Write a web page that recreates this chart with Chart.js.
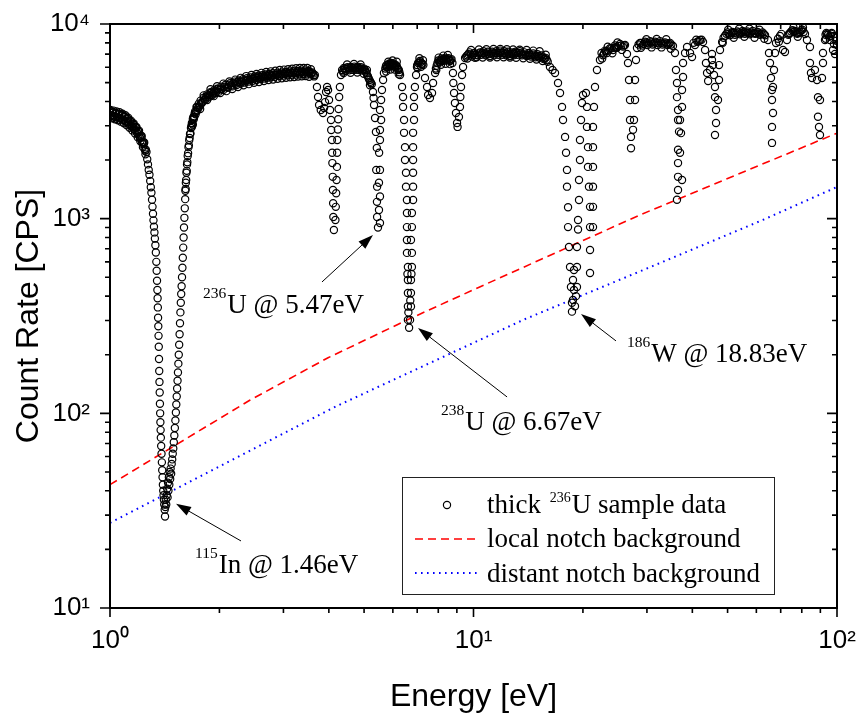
<!DOCTYPE html>
<html>
<head>
<meta charset="utf-8">
<script src="https://cdn.jsdelivr.net/npm/chart.js@4/dist/chart.umd.min.js"></script>
<style>
html,body{margin:0;padding:0;background:#fff;}
#wrap{width:861px;height:713px;}
</style>
</head>
<body>
<div id="wrap"><canvas id="c" width="861" height="713"></canvas></div>
<script>
// ---- sample data: energy [eV] and count rate [CPS] ----
const energyEV = [
1.00,1.01,1.02,1.03,1.04,1.05,1.06,1.07,1.08,1.09,
1.10,1.11,1.12,1.13,1.14,1.15,1.16,1.17,1.18,1.19,
1.20,1.21,1.22,1.23,1.24,1.25,1.26,1.266,1.272,1.278,
1.284,1.290,1.295,1.300,1.305,1.309,1.313,1.317,1.321,1.325,
1.329,1.333,1.337,1.341,1.344,1.347,1.350,1.352,1.354,1.356,
1.358,1.360,1.362,1.364,1.366,1.368,1.370,1.372,1.374,1.376,
1.378,1.380,1.383,1.386,1.389,1.392,1.395,1.398,1.401,1.404,
1.407,1.410,1.414,1.417,1.420,1.424,1.428,1.432,1.436,1.440,
1.444,1.448,1.452,1.456,1.460,1.464,1.468,1.473,1.478,1.483,
1.488,1.493,1.498,1.503,1.508,1.513,1.518,1.522,1.526,1.530,
1.534,1.538,1.542,1.546,1.550,1.554,1.558,1.562,1.566,1.570,
1.574,1.578,1.582,1.586,1.590,1.594,1.598,1.602,1.606,1.610,
1.615,1.620,1.626,1.632,1.640,1.648,1.656,1.665,1.675,1.685,
1.695,1.705,1.715,1.725,1.735,1.745,1.755,1.765,1.775,1.79,
1.81,1.83,1.85,1.87,1.89,1.91,1.93,1.95,1.97,1.99,
2.02,2.05,2.08,2.11,2.14,2.17,2.20,2.23,2.26,2.29,
2.32,2.35,2.38,2.41,2.44,2.47,2.50,2.53,2.56,2.59,
2.62,2.65,2.68,2.71,2.74,2.77,2.80,2.84,2.88,2.92,
2.96,3.00,3.04,3.08,3.12,3.16,3.20,3.24,3.28,3.32,
3.36,3.40,3.44,3.48,3.52,3.56,3.60,3.63,3.66,3.71,
3.735,3.76,3.80,3.855,3.88,3.905,3.93,3.955,3.98,4.005,
4.03,4.055,4.06,4.08,4.085,4.09,4.10,4.105,4.11,4.115,
4.13,4.17,4.18,4.19,4.20,4.21,4.215,4.22,4.235,4.245,
4.255,4.27,4.29,4.32,4.35,4.40,4.45,4.50,4.55,4.60,
4.65,4.70,4.75,4.80,4.85,4.90,4.95,5.00,5.05,5.10,
5.15,5.20,5.25,5.29,5.31,5.325,5.36,5.39,5.42,5.40,
5.43,5.425,5.43,5.46,5.53,5.495,5.53,5.495,5.53,5.50,
5.53,5.53,5.57,5.53,5.57,5.60,5.64,5.67,5.72,5.76,
5.80,5.85,5.89,5.94,5.98,6.03,6.08,6.13,6.18,6.23,
6.28,6.36,6.40,6.40,6.44,6.44,6.48,6.48,6.52,6.52,
6.56,6.56,6.56,6.56,6.56,6.60,6.58,6.60,6.60,6.62,
6.60,6.60,6.65,6.69,6.70,6.73,6.73,6.73,6.75,6.77,
6.77,6.73,6.77,6.77,6.82,6.82,6.82,6.82,6.82,6.82,
6.86,6.86,6.86,6.90,6.95,6.99,7.04,7.12,7.20,7.28,
7.355,7.45,7.50,7.59,7.69,7.74,7.84,7.92,8.00,8.09,
8.17,8.26,8.35,8.44,8.53,8.62,8.70,8.75,8.78,8.80,
8.84,8.89,8.95,9.01,9.04,9.12,9.18,9.20,9.24,9.30,
9.36,9.48,9.60,9.75,9.90,10.05,10.2,10.35,10.5,10.65,
10.8,10.95,11.1,11.25,11.4,11.55,11.7,11.85,12.0,12.15,
12.3,12.45,12.6,12.75,12.9,13.05,13.2,13.4,13.6,13.8,
14.0,14.2,14.4,14.6,14.8,15.0,15.2,15.4,15.6,15.8,
16.0,16.23,16.5,16.76,17.08,17.30,17.52,17.63,17.86,17.97,
18.08,18.08,18.2,18.2,18.31,18.43,18.54,18.66,18.66,18.78,
18.90,18.78,19.02,18.90,19.14,19.26,19.26,19.26,19.39,19.39,
19.51,19.51,19.63,19.63,19.76,19.88,20.01,20.39,20.52,20.52,
20.65,20.65,20.78,20.92,20.92,20.92,20.92,21.32,21.32,21.32,
21.32,21.32,21.32,21.45,21.59,21.86,22.28,22.71,23.0,23.29,
23.74,24.2,24.5,24.82,25.29,25.78,26.11,26.44,26.61,26.78,
26.95,26.95,27.12,27.12,27.47,27.64,27.82,27.82,27.99,28.17,
28.71,29.2,29.63,30.1,30.59,31.1,31.57,32.1,32.58,33.1,
33.63,34.2,34.72,35.38,35.83,36.06,36.29,36.29,36.53,36.53,
36.76,36.53,36.53,36.53,36.53,36.29,37.47,37.0,37.23,37.0,
37.47,37.47,37.71,37.71,38.19,38.68,39.42,39.92,40.68,41.3,
42.0,42.8,43.35,43.6,43.9,44.2,44.74,45.3,45.3,45.6,
45.88,46.17,46.17,46.47,46.47,46.17,47.06,47.36,47.36,47.66,
48.3,49.2,50.0,50.8,51.6,52.4,53.2,54.1,55.0,55.8,
56.7,57.6,58.6,59.5,60.5,61.4,62.4,63.4,64.59,65.0,
65.42,65.83,66.25,66.25,66.67,66.25,66.25,66.67,67.09,67.52,
67.95,69.68,70.3,71.02,71.93,72.84,73.5,74.25,75.4,76.63,
77.8,79.1,80.3,81.64,82.68,84.27,84.27,84.8,85.34,86.98,
88.1,88.65,88.65,89.22,89.79,89.79,90.93,91.51,91.51,92.68,
93.5,94.46,95.65,96.5,97.5,98.74,99.3,100,
// second pass of readings along the dense baseline band
1.005,1.015,1.025,1.035,1.045,1.055,1.065,1.075,1.085,1.095,
1.105,1.115,1.125,1.135,1.145,1.155,1.165,1.175,1.185,1.195,
1.205,1.215,1.225,1.235,1.245,1.255,
1.68,1.70,1.72,1.74,1.76,1.78,1.80,1.82,1.84,1.86,
1.88,1.90,1.92,1.94,1.96,1.98,2.00,2.035,2.065,2.095,
2.125,2.155,2.185,2.215,2.245,2.275,2.305,2.335,2.365,2.395,
2.425,2.455,2.485,2.515,2.545,2.575,2.605,2.635,2.665,2.695,
2.725,2.755,2.785,2.82,2.86,2.90,2.94,2.98,3.02,3.06,
3.10,3.14,3.18,3.22,3.26,3.30,3.34,3.38,3.42,3.46,
3.50,3.54,3.58,3.615,3.645,
4.375,4.425,4.475,4.525,4.575,4.625,4.675,4.725,4.775,4.825,
4.875,4.925,4.975,5.025,5.075,5.125,5.175,5.225,
5.74,5.78,5.825,5.87,5.915,5.96,6.005,6.055,6.105,6.155,
6.205,6.255,7.00,7.08,7.16,7.24,7.88,7.96,8.045,8.13,
8.215,8.305,8.395,8.485,8.575,8.66,
9.54,9.675,9.825,9.975,10.125,10.275,10.425,10.575,10.725,10.875,
11.025,11.175,11.325,11.475,11.625,11.775,11.925,12.075,12.225,12.375,
12.525,12.675,12.825,12.975,13.125,13.3,13.5,13.7,13.9,14.1,
14.3,14.5,14.7,14.9,15.1,15.3,15.5,15.7,15.9,
22.5,22.85,23.15,23.5,23.95,24.35,24.65,25.05,25.5,25.95,
28.45,28.95,29.4,29.85,30.35,30.85,31.35,31.85,32.35,32.85,
33.35,33.9,34.45,35.0,40.3,41.0,41.65,42.4,48.75,49.6,
50.4,51.2,52.0,52.8,53.65,54.55,55.4,56.25,57.15,58.1,
59.05,60.0,60.95,61.9,62.9,68.8,73.85,74.8,76.0,77.2,
78.45,79.7,80.95,93.0,94.0,95.1,96.0,98.1,99.65,
// third pass: outer edges of the band
1.002,1.012,1.022,1.032,1.042,1.052,1.062,1.072,1.082,1.092,
1.102,1.112,1.122,1.132,1.142,1.152,1.162,1.172,1.182,1.192,
1.202,1.212,1.222,1.232,1.242,1.252,
1.612,1.617,1.623,1.629,1.636,1.644,1.652,1.660,1.670,1.680,
1.690,1.700,1.710,
1.69,1.73,1.77,1.81,1.85,1.89,1.93,1.97,2.01,2.05,
2.09,2.13,2.17,2.21,2.25,2.29,2.33,2.37,2.41,2.45,
2.49,2.53,2.57,2.61,2.65,2.69,2.73,2.77,2.81,2.85,
2.89,2.93,2.97,3.01,3.05,3.09,3.13,3.17,3.21,3.25,
3.29,3.33,3.37,3.41,3.45,3.49,3.53,3.57,
4.39,4.49,4.59,4.69,4.79,4.89,4.99,5.09,5.19,
5.75,5.83,5.91,5.99,6.07,6.15,6.23,7.02,7.10,7.18,
7.26,7.90,8.02,8.14,8.26,8.38,8.50,8.62,
9.62,9.85,10.1,10.35,10.6,10.85,11.1,11.35,11.6,11.85,
12.1,12.35,12.6,12.85,13.1,13.4,13.7,14.0,14.3,14.6,
14.9,15.2,15.5,15.8,
22.6,23.4,24.1,24.9,25.6,28.9,29.9,30.9,31.9,32.9,
33.9,34.9,48.5,50.2,52.0,53.8,55.6,57.4,59.3,61.2,
63.1,69.2,75.9,78.0,80.6,93.2,96.7
];
const countRate = [
3560,3380,3500,3330,3470,3300,3440,3260,3390,3200,
3330,3130,3240,3050,3150,2960,3040,2860,2930,2740,
2790,2590,2620,2420,2430,2230,2200,2020,1900,1780,
1680,1560,1450,1360,1250,1150,1060,980,910,850,
790,730,670,600,540,480,430,390,350,310,
280,250,220,190,165,145,128,112,100,90,
82,75,68,62,56,51,47,43,40,38,
36,34,32,29.5,33,36,34,38,41,37,
44,40,47,43,50,46,52,49,55,58,
62,66,71,77,84,92,101,111,122,134,
147,162,180,200,225,255,290,330,370,410,
450,500,560,630,710,800,900,1010,1130,1260,
1420,1580,1760,1950,2170,2380,2600,2740,3000,3080,
3310,3330,3550,3530,3740,3690,3900,3820,4040,3930,
4180,4080,4350,4200,4460,4300,4560,4410,4650,4480,
4760,4580,4880,4700,4960,4780,5060,4860,5130,4940,
5200,5000,5260,5060,5320,5110,5370,5160,5420,5210,
5460,5250,5500,5290,5540,5320,5580,5360,5610,5400,
5640,5430,5670,5450,5700,5480,5720,5500,5740,5520,
5760,5540,5770,5560,5740,5520,5640,5450,5470,4750,
4220,3840,3617,3490,3700,3970,4475,4750,4580,4071,
3617,3213,2855,2535,2180,1930,1640,1404,1200,1020,
875,985,1150,1350,1580,1845,2180,2535,2870,3240,
3660,4220,4750,5470,5805,5950,5750,6000,5790,6020,
5810,6040,5820,6030,5800,6000,5760,5900,5700,5450,
5250,5050,4900,4475,4170,3837,3290,2790,2310,1780,
1460,1220,1020,900,950,1109,1300,1530,1780,2180,
2535,2855,3213,3617,4071,4583,5157,5600,5900,6150,
6000,6250,6050,6300,6100,6250,6000,6150,5900,5800,
5470,4750,4220,3750,3213,2760,2330,2000,1720,1460,
1248,1070,905,777,667,565,520,484,415,330,
354,302,275,302,380,354,415,484,520,565,
667,777,905,1070,1248,1460,1720,2000,2330,2760,
3213,3750,4220,4750,5470,6010,6300,6450,6250,6150,
5280,4750,4318,4167,4420,4975,5600,6100,6500,6350,
6650,6450,6700,6500,6680,6450,6600,6300,5600,4975,
4420,3930,3490,3100,2960,3330,3750,4220,4750,5470,
6010,6690,6900,7150,6800,7100,6750,7050,6950,7250,
6900,7200,6850,7200,6900,7250,6950,7300,6950,7250,
6900,7200,6850,7150,6900,7200,6950,7250,6900,7150,
6850,7100,6800,7050,6750,7000,6700,6900,6600,6700,
6400,6010,5800,5600,4975,4420,3750,3213,2630,2180,
1780,1460,1145,905,715,565,446,370,333,382,
430,484,355,545,400,446,565,715,880,985,
1248,1580,2000,2535,3213,3928,4318,4420,3750,2960,
2330,1845,1460,1150,905,690,526,905,1150,1460,
1845,2330,2960,3750,4750,5805,6535,6900,7300,7100,
7500,7350,7750,7550,7900,7650,7800,7015,6300,5157,
4071,3213,2630,2300,2860,3213,4071,5157,6535,7530,
7990,7750,8100,7800,8150,7850,8100,7800,8150,7850,
8050,7800,8000,7710,7100,5805,4975,4210,3617,3213,
2800,2260,1930,1640,1404,1250,1580,2180,2750,3213,
3750,4583,5340,6300,7100,7620,7100,6760,7800,8100,
8275,8080,7350,6300,5600,5100,5805,6535,7015,6150,
5470,4750,4210,3617,3100,2692,4071,5157,6150,7355,
8080,8700,9050,8750,9100,8800,9150,8850,9200,8900,
9150,8850,9200,8900,9100,8800,9050,8750,8275,7100,
6300,5280,4583,4071,3491,2960,2450,4750,5805,7100,
7990,8675,8900,7355,7180,8275,8800,9000,9300,9200,
8900,9100,9350,8884,8275,7620,6300,5600,5280,5805,
5157,4210,3340,2960,2692,4071,5280,6300,7100,8275,
9000,8780,8275,8900,7355,7015,8500,7800,
// second pass of readings along the dense baseline band
3400,3520,3360,3490,3320,3460,3280,3420,3230,3360,
3170,3270,3080,3180,2990,3070,2900,2960,2780,2820,
2640,2670,2470,2480,2280,2260,
2960,3240,3440,3600,3760,3920,4000,4100,4230,4300,
4300,4440,4380,4500,4480,4620,4600,4650,4760,4750,
4870,4830,4960,4930,5020,5040,5060,5120,5130,5170,
5180,5230,5230,5290,5280,5330,5330,5380,5370,5420,
5400,5450,5430,5480,5470,5520,5500,5560,5540,5580,
5560,5610,5590,5630,5610,5650,5630,5670,5640,5680,
5640,5650,5580,5560,5380,
5700,5900,5880,5920,5900,5950,5900,5960,5920,5940,
5880,5900,5820,5820,5600,5380,5150,4980,
6050,6000,6150,6150,6180,6200,6180,6150,6100,6050,
5850,5650,6150,6350,6350,6250,5900,6300,6420,6500,
6550,6580,6600,6600,6560,6520,
6800,7000,6980,6950,6920,6900,7150,7100,7050,7050,
7000,7050,7050,7100,7100,7100,7150,7100,7050,7050,
7000,7000,7050,7050,7100,7100,7050,7000,6950,6950,
6950,6900,6900,6850,6850,6800,6750,6650,6550,
7100,7050,7250,7300,7500,7550,7600,7700,7750,7750,
7850,8000,7900,8000,7950,8050,7950,8000,7950,8000,
7950,7950,7900,7850,8000,8300,8150,8300,8500,8900,
8900,8950,9000,8950,9050,9000,9100,9050,9000,9050,
9000,8950,8950,8900,8900,8400,8900,9150,9100,9050,
9000,9250,9100,8800,8900,8600,8700,7900,8200,
// third pass: outer edges of the band
3620,3280,3590,3240,3550,3200,3520,3150,3460,3090,
3400,3020,3300,2930,3190,2840,3080,2740,2960,2620,
2830,2500,2660,2330,2460,2140,
1390,1530,1720,1900,2100,2330,2530,2720,2920,3100,
3250,3350,3480,
3040,3750,3660,4300,4070,4620,4260,4790,4420,4940,
4520,5070,4630,5180,4740,5290,4850,5400,4910,5470,
4990,5540,5040,5610,5100,5670,5150,5710,5190,5750,
5230,5800,5260,5830,5290,5860,5320,5890,5340,5920,
5370,5940,5390,5950,5400,5950,5360,5860,
5600,6200,5620,6230,5630,6200,5550,5800,4850,
5700,6400,5840,6490,5840,6400,5510,5940,6670,6030,
6510,5800,6720,6180,6880,6250,6930,6220,
6650,7350,6700,7400,6720,7420,6720,7450,6750,7450,
6750,7420,6720,7400,6700,7380,6670,7350,6620,7300,
6570,7250,6450,6950,
6650,7650,7080,8030,7360,7550,8350,7580,8380,7580,
8350,7460,8000,9350,8500,9450,8600,9450,8500,9350,
8400,8100,9600,8600,9600,8400,9000
];

// ---- background estimates ----
const localBgEnergy   = [1, 2.43, 3.98, 6.65, 10.4, 28.7, 100];
const localBgRate     = [43, 117, 193, 305, 446, 1045, 2750];
const distantBgEnergy = [1, 4.16, 13.7, 32.6, 62.5, 100];
const distantBgRate   = [27.4, 108, 302, 592, 985, 1455];

// ---- axis tick labels ----
const xTickValues = [1, 10, 100];
const xTickLabels = ['10\u2070', '10\u00B9', '10\u00B2'];
const yTickValues = [10, 100, 1000, 10000];
const yTickLabels = ['10\u00B9', '10\u00B2', '10\u00B3', '10\u2074'];

// ---- series names ----
const seriesNames = ['thick \u00B2\u00B3\u2076U sample data', 'local notch background', 'distant notch background'];

// ---- resonance annotations (isotope, label, text anchor, arrow tip/tail in data units) ----
const annotations = [
  {iso: '236', label: 'U @ 5.47eV',  textE: 1.803, textC: 328,  tipE: 5.29,  tipC: 825,   tailE: 3.83,  tailC: 473},
  {iso: '238', label: 'U @ 6.67eV',  textE: 8.14,  textC: 82.2, tipE: 7.035, tipC: 274.5, tailE: 12.37, tailC: 121.4},
  {iso: '186', label: 'W @ 18.83eV', textE: 26.44, textC: 183.6, tipE: 19.76, tipC: 324,  tailE: 24.66, tailC: 235.5},
  {iso: '115', label: 'In @ 1.46eV', textE: 1.713, textC: 15.15, tipE: 1.519, tipC: 34.3, tailE: 2.293, tailC: 22.1}
];

const SANS = "'Liberation Sans', Arial, Helvetica, sans-serif";
const SERIF = "'Liberation Serif', 'Times New Roman', Times, serif";

function pickLabel(value, vals, labels) {
  for (let i = 0; i < vals.length; i++) {
    if (Math.abs(vals[i] - value) < 1e-6 * vals[i]) return labels[i];
  }
  return '';
}
const isMajor = v => Math.abs(Math.log10(v) - Math.round(Math.log10(v))) < 1e-9;

const decor = {
  id: 'decor',
  afterDatasetsDraw(chart) {
    const {ctx, chartArea: a, scales: {x, y}} = chart;
    ctx.save();
    ctx.setLineDash([]);
    ctx.strokeStyle = '#000';
    ctx.lineWidth = 2;
    ctx.strokeRect(a.left, a.top, a.right - a.left, a.bottom - a.top);
    ctx.lineWidth = 1.6;
    ctx.beginPath();
    const xt = [];
    for (let d = 1; d < 100; d *= 10) for (let m = 1; m < 10; m++) xt.push(m * d);
    xt.push(100);
    xt.forEach(v => {
      const px = x.getPixelForValue(v);
      const len = isMajor(v) ? 9 : 5;
      ctx.moveTo(px, a.bottom); ctx.lineTo(px, a.bottom + len);
      ctx.moveTo(px, a.top); ctx.lineTo(px, a.top + len);
    });
    const yt = [];
    for (let d = 10; d < 10000; d *= 10) for (let m = 1; m < 10; m++) yt.push(m * d);
    yt.push(10000);
    yt.forEach(v => {
      const py = y.getPixelForValue(v);
      const len = isMajor(v) ? 10 : 5;
      ctx.moveTo(a.left, py); ctx.lineTo(a.left - len, py);
      ctx.moveTo(a.right, py); ctx.lineTo(a.right - len, py);
    });
    ctx.stroke();

    ctx.fillStyle = '#000';
    ctx.strokeStyle = '#000';
    ctx.textAlign = 'left';
    ctx.textBaseline = 'alphabetic';
    annotations.forEach(an => {
      const x0 = x.getPixelForValue(an.textE);
      const yb = y.getPixelForValue(an.textC);
      ctx.font = '15.5px ' + SERIF;
      ctx.fillText(an.iso, x0, yb - 15);
      const w = ctx.measureText(an.iso).width;
      ctx.font = '27px ' + SERIF;
      ctx.fillText(an.label, x0 + w + 1, yb);
      const tx = x.getPixelForValue(an.tailE), ty = y.getPixelForValue(an.tailC);
      const hx = x.getPixelForValue(an.tipE), hy = y.getPixelForValue(an.tipC);
      const ang = Math.atan2(hy - ty, hx - tx);
      const L = 15, W = 5;
      const bx = hx - L * Math.cos(ang), by = hy - L * Math.sin(ang);
      ctx.lineWidth = 1;
      ctx.beginPath(); ctx.moveTo(tx, ty); ctx.lineTo(bx, by); ctx.stroke();
      ctx.beginPath();
      ctx.moveTo(hx, hy);
      ctx.lineTo(bx + W * Math.sin(ang), by - W * Math.cos(ang));
      ctx.lineTo(bx - W * Math.sin(ang), by + W * Math.cos(ang));
      ctx.closePath(); ctx.fill();
    });

    const lx = a.left + 292, ly = a.bottom - 131, lw = 372, lh = 117;
    ctx.fillStyle = '#fff';
    ctx.fillRect(lx, ly, lw, lh);
    ctx.lineWidth = 1;
    ctx.strokeStyle = '#222';
    ctx.strokeRect(lx + 0.5, ly + 0.5, lw, lh);
    const rows = [ly + 36, ly + 70, ly + 105];
    const textX = lx + 85;
    ctx.strokeStyle = '#000';
    ctx.lineWidth = 1.2;
    ctx.beginPath(); ctx.arc(lx + 45, rows[0] - 8, 3.6, 0, Math.PI * 2); ctx.stroke();
    ctx.fillStyle = '#000';
    ctx.font = '27px ' + SERIF;
    let cx = textX;
    ctx.fillText('thick ', cx, rows[0]);
    cx += ctx.measureText('thick ').width + 2;
    ctx.font = '14px ' + SERIF;
    ctx.fillText('236', cx, rows[0] - 11);
    cx += ctx.measureText('236').width + 1;
    ctx.font = '27px ' + SERIF;
    ctx.fillText('U sample data', cx, rows[0]);
    ctx.strokeStyle = '#ff0000'; ctx.lineWidth = 1.6; ctx.setLineDash([8, 5]);
    ctx.beginPath(); ctx.moveTo(lx + 13, rows[1] - 8); ctx.lineTo(lx + 77, rows[1] - 8); ctx.stroke();
    ctx.fillText('local notch background', textX, rows[1]);
    ctx.strokeStyle = '#0000ff'; ctx.lineWidth = 2; ctx.setLineDash([1.6, 4.4]);
    ctx.beginPath(); ctx.moveTo(lx + 13, rows[2] - 9); ctx.lineTo(lx + 77, rows[2] - 9); ctx.stroke();
    ctx.setLineDash([]);
    ctx.fillText('distant notch background', textX, rows[2]);
    ctx.restore();
  }
};

const pts = energyEV.map((e, i) => ({x: e, y: countRate[i]}));
const localPts = localBgEnergy.map((e, i) => ({x: e, y: localBgRate[i]}));
const distantPts = distantBgEnergy.map((e, i) => ({x: e, y: distantBgRate[i]}));

new Chart(document.getElementById('c'), {
  type: 'scatter',
  data: {
    datasets: [
      {
        label: seriesNames[0], data: pts, showLine: false,
        pointStyle: 'circle', pointRadius: 3.6, pointHoverRadius: 3.6,
        pointBorderWidth: 1.2, pointBorderColor: '#000', pointBackgroundColor: 'rgba(0,0,0,0)',
        borderColor: '#000', backgroundColor: 'rgba(0,0,0,0)'
      },
      {
        label: seriesNames[1], data: localPts, showLine: true, pointRadius: 0,
        borderColor: '#ff0000', borderWidth: 1.6, borderDash: [8, 5], fill: false, tension: 0
      },
      {
        label: seriesNames[2], data: distantPts, showLine: true, pointRadius: 0,
        borderColor: '#0000ff', borderWidth: 2, borderDash: [1.6, 4.4], fill: false, tension: 0
      }
    ]
  },
  options: {
    responsive: false,
    animation: false,
    devicePixelRatio: 1,
    layout: {padding: {left: 0, right: 24, top: 24, bottom: 0}},
    plugins: {legend: {display: false}, tooltip: {enabled: false}},
    scales: {
      x: {
        type: 'logarithmic', min: 1, max: 100, position: 'bottom',
        grid: {display: false, drawTicks: false},
        border: {display: false},
        ticks: {
          autoSkip: false, maxRotation: 0, minRotation: 0, padding: 17, color: '#000',
          font: {family: SANS, size: 26},
          callback: v => pickLabel(v, xTickValues, xTickLabels)
        },
        title: {display: true, text: 'Energy [eV]', color: '#000',
          font: {family: SANS, size: 32, lineHeight: 1}, padding: {top: 0, bottom: 0}},
        afterFit: s => { s.height = 105; s.paddingLeft = 0; s.paddingRight = 0; }
      },
      y: {
        type: 'logarithmic', min: 10, max: 10000, position: 'left',
        grid: {display: false, drawTicks: false},
        border: {display: false},
        ticks: {
          autoSkip: false, padding: 20, color: '#000',
          font: {family: SANS, size: 26},
          callback: v => pickLabel(v, yTickValues, yTickLabels)
        },
        title: {display: true, text: 'Count Rate [CPS]', color: '#000',
          font: {family: SANS, size: 32, lineHeight: 1}, padding: {top: 13, bottom: 0}},
        afterFit: s => { s.width = 110; s.paddingTop = 0; s.paddingBottom = 0; }
      }
    }
  },
  plugins: [decor]
});
</script>
</body>
</html>
